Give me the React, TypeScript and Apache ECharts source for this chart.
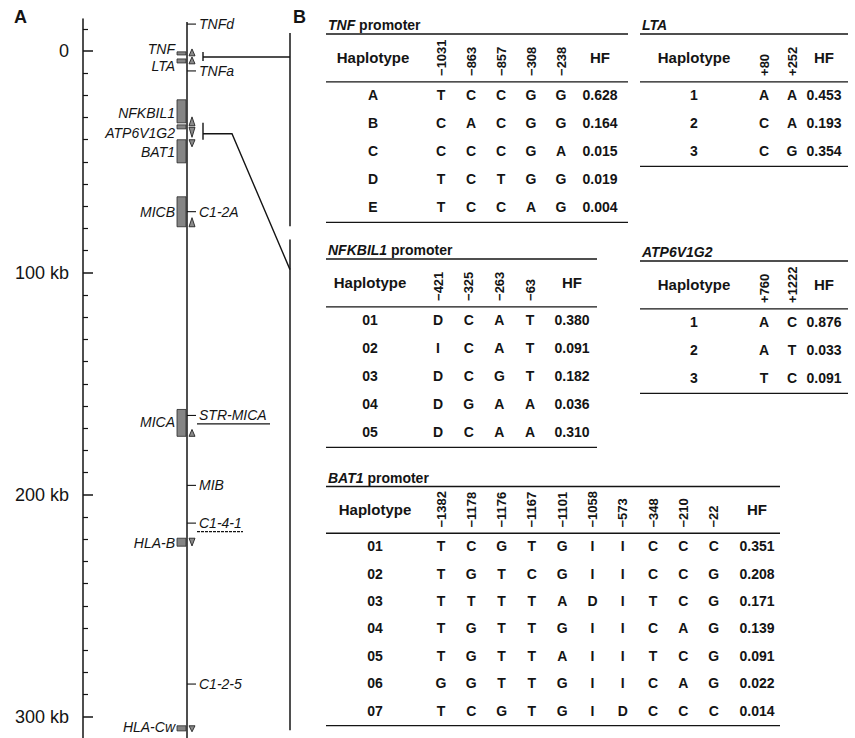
import React, { useEffect, useRef } from 'react';
import * as echarts from 'echarts';

// ---------------- Panel A data (positions in kb) ----------------
const AXIS_MAJOR_TICKS = [0, 100, 200, 300];
const AXIS_MINOR_TICKS = [-10, 10, 20, 30, 40, 50, 60, 70, 80, 90, 110, 120, 130, 140, 150, 160, 170, 180, 190,
  210, 220, 230, 240, 250, 260, 270, 280, 290];

const GENE_NAMES = ['TNF', 'LTA', 'NFKBIL1', 'ATP6V1G2', 'BAT1', 'MICB', 'MICA', 'HLA-B', 'HLA-Cw'];
const GENE_START = [0.4, 3.6, 22.0, 33.3, 40.0, 65.7, 161.5, 219.5, 304.0];
const GENE_END = [1.8, 5.4, 32.4, 35.1, 50.4, 79.2, 173.6, 223.1, 306.3];
const GENE_LABEL_KB = [-0.9, 6.9, 27.9, 36.9, 45.4, 72.4, 167.3, 221.7, 304.5];
const GENE_STRAND = ['+', '+', '+', '-', '-', '+', '+', '-', '-'];
const ARROW_START = [-0.9, 2.7, 29.7, 34.4, 40.0, 75.1, 170.5, 219.5, 304.0];
const ARROW_END = [2.2, 5.8, 33.7, 38.9, 43.2, 79.2, 173.6, 223.0, 306.7];

const MARKER_NAMES = ['TNFd', 'TNFa', 'C1-2A', 'STR-MICA', 'MIB', 'C1-4-1', 'C1-2-5'];
const MARKER_KB = [-12.1, 9.0, 72.4, 164.2, 195.7, 212.7, 285.2];
const MARKER_UNDERLINE = ['', '', '', 'solid', '', 'dashed', ''];

const BRACKET_TOP = [0.5, 32.4];
const BRACKET_BOTTOM = [4.5, 40.0];
const BRACKET_MID = [2.7, 37.3];
const BRACKET_TARGET = [2.7, 98.5];

const REGION_START = [-8.1, 84.9];
const REGION_END = [79.0, 306.0];

const CHROM_START_KB = -13.0;

// ---------------- Panel B data ----------------
const TNF_SNPS = ['−1031', '−863', '−857', '−308', '−238'];
const TNF_HAPLOTYPES = ['A', 'B', 'C', 'D', 'E'];
const TNF_ALLELES = ['TCCGG', 'CACGG', 'CCCGA', 'TCTGG', 'TCCAG'];
const TNF_HF = [0.628, 0.164, 0.015, 0.019, 0.004];

const LTA_SNPS = ['+80', '+252'];
const LTA_HAPLOTYPES = ['1', '2', '3'];
const LTA_ALLELES = ['AA', 'CA', 'CG'];
const LTA_HF = [0.453, 0.193, 0.354];

const NFKBIL1_SNPS = ['−421', '−325', '−263', '−63'];
const NFKBIL1_HAPLOTYPES = ['01', '02', '03', '04', '05'];
const NFKBIL1_ALLELES = ['DCAT', 'ICAT', 'DCGT', 'DGAA', 'DCAA'];
const NFKBIL1_HF = [0.38, 0.091, 0.182, 0.036, 0.31];

const ATP_SNPS = ['+760', '+1222'];
const ATP_HAPLOTYPES = ['1', '2', '3'];
const ATP_ALLELES = ['AC', 'AT', 'TC'];
const ATP_HF = [0.876, 0.033, 0.091];

const BAT1_SNPS = ['−1382', '−1178', '−1176', '−1167', '−1101', '−1058', '−573', '−348', '−210', '−22'];
const BAT1_HAPLOTYPES = ['01', '02', '03', '04', '05', '06', '07'];
const BAT1_ALLELES = ['TCGTGIICCC', 'TGTCGIICCG', 'TTTTADITCG', 'TGTTGIICAG', 'TGTTAIITCG', 'GGTTGIICAG', 'TCGTGIDCCC'];
const BAT1_HF = [0.351, 0.208, 0.171, 0.139, 0.091, 0.022, 0.014];

const TABLES = [
  { title: 'TNF', suffix: ' promoter', snps: TNF_SNPS, haps: TNF_HAPLOTYPES, alleles: TNF_ALLELES, hf: TNF_HF },
  { title: 'LTA', suffix: '', snps: LTA_SNPS, haps: LTA_HAPLOTYPES, alleles: LTA_ALLELES, hf: LTA_HF },
  { title: 'NFKBIL1', suffix: ' promoter', snps: NFKBIL1_SNPS, haps: NFKBIL1_HAPLOTYPES, alleles: NFKBIL1_ALLELES, hf: NFKBIL1_HF },
  { title: 'ATP6V1G2', suffix: '', snps: ATP_SNPS, haps: ATP_HAPLOTYPES, alleles: ATP_ALLELES, hf: ATP_HF },
  { title: 'BAT1', suffix: ' promoter', snps: BAT1_SNPS, haps: BAT1_HAPLOTYPES, alleles: BAT1_ALLELES, hf: BAT1_HF },
];

// ---------------- Layout (pixels) ----------------
const W = 855;
const H = 738;
const FONT = '"Liberation Sans", Arial, Helvetica, sans-serif';
const INK = '#141414';
const ZERO_Y = 51;
const PX_PER_KB = 667 / 300;
const AX_MIN = -14.4;
const AX_MAX = 309.5;
const AXIS_X = 83;
const CHROM_X = 187;
const REGION_X = 290;
const ROW_H = 28;

const TABLE_LAYOUT = [
  { left: 326, right: 628, row0: 95, snpX0: 441, dx: 30, hapX: 373, hfX: 600 },
  { left: 640, right: 848, row0: 95, snpX0: 764, dx: 28, hapX: 694, hfX: 824 },
  { left: 326, right: 597, row0: 320, snpX0: 438, dx: 30.7, hapX: 370, hfX: 572 },
  { left: 640, right: 848, row0: 322, snpX0: 764, dx: 28, hapX: 694, hfX: 824 },
  { left: 326, right: 780, row0: 548, snpX0: 441, dx: 30.3, hapX: 375, hfX: 757 },
];

function buildOption() {
  const gridTop = ZERO_Y + AX_MIN * PX_PER_KB;
  const gridH = (AX_MAX - AX_MIN) * PX_PER_KB;

  const grids: any[] = [
    { left: AXIS_X, top: gridTop, width: 20, height: gridH },
    { left: CHROM_X, top: gridTop, width: REGION_X - CHROM_X, height: gridH },
  ];
  const xAxes: any[] = [
    { gridIndex: 0, type: 'value', show: false, min: 0, max: 1 },
    { gridIndex: 1, type: 'value', show: false, min: 0, max: REGION_X - CHROM_X },
  ];
  const yAxes: any[] = [
    {
      gridIndex: 0, type: 'value', position: 'left', inverse: true, min: AX_MIN, max: AX_MAX,
      axisLine: { show: true, lineStyle: { color: INK, width: 1.5 } },
      axisTick: { show: true, inside: true, length: 10, customValues: AXIS_MAJOR_TICKS, lineStyle: { color: INK, width: 1.5 } },
      axisLabel: {
        show: true, customValues: AXIS_MAJOR_TICKS, margin: 14, color: INK, fontSize: 18, fontFamily: FONT,
        formatter: (v: number) => (v === 0 ? '0' : `${v} kb`),
      },
      splitLine: { show: false },
    },
    {
      gridIndex: 0, type: 'value', position: 'left', offset: 0, inverse: true, min: AX_MIN, max: AX_MAX,
      axisLine: { show: false },
      axisTick: { show: true, inside: true, length: 5, customValues: AXIS_MINOR_TICKS, lineStyle: { color: INK, width: 1.2 } },
      axisLabel: { show: false },
      splitLine: { show: false },
    },
    { gridIndex: 1, type: 'value', show: false, inverse: true, min: AX_MIN, max: AX_MAX },
  ];

  // ---- Panel A items ----
  const aItems: any[] = [];
  aItems.push({ kind: 'chrom', kb: CHROM_START_KB });
  REGION_START.forEach((s, i) => aItems.push({ kind: 'region', i, kb: s }));
  GENE_NAMES.forEach((g, i) => aItems.push({ kind: 'gene', i, kb: GENE_START[i] }));
  MARKER_NAMES.forEach((m, i) => aItems.push({ kind: 'marker', i, kb: MARKER_KB[i] }));
  BRACKET_TOP.forEach((b, i) => aItems.push({ kind: 'bracket', i, kb: b }));

  const series: any[] = [];
  series.push({
    type: 'custom',
    xAxisIndex: 1,
    yAxisIndex: 2,
    silent: true,
    data: aItems.map((it) => [0, it.kb]),
    renderItem: (params: any, api: any) => {
      const it = aItems[params.dataIndex];
      const P = (dx: number, kb: number) => {
        const p = api.coord([0, kb]);
        return [p[0] + dx, p[1]];
      };
      const lineStyle = { stroke: INK, lineWidth: 1.4 };
      if (it.kind === 'chrom') {
        const a = P(0, CHROM_START_KB);
        const b = P(0, AX_MAX);
        return { type: 'line', shape: { x1: a[0], y1: a[1], x2: b[0], y2: b[1] }, style: { ...lineStyle, lineWidth: 1.5 } };
      }
      if (it.kind === 'region') {
        const a = P(REGION_X - CHROM_X, REGION_START[it.i]);
        const b = P(REGION_X - CHROM_X, REGION_END[it.i]);
        return { type: 'line', shape: { x1: a[0], y1: a[1], x2: b[0], y2: b[1] }, style: { ...lineStyle, lineWidth: 1.5 } };
      }
      if (it.kind === 'gene') {
        const i = it.i;
        const a = P(0, GENE_START[i]);
        const b = P(0, GENE_END[i]);
        const ta = P(0, ARROW_START[i]);
        const tb = P(0, ARROW_END[i]);
        const lab = P(0, GENE_LABEL_KB[i]);
        const cx = a[0];
        const pts = GENE_STRAND[i] === '+'
          ? [[cx + 2, tb[1]], [cx + 8, tb[1]], [cx + 5, ta[1]]]
          : [[cx + 2, ta[1]], [cx + 8, ta[1]], [cx + 5, tb[1]]];
        return {
          type: 'group',
          children: [
            { type: 'rect', shape: { x: cx - 10, y: a[1], width: 9, height: Math.max(2.5, b[1] - a[1]) },
              style: { fill: '#858585', stroke: '#2a2a2a', lineWidth: 0.8 } },
            { type: 'polygon', shape: { points: pts }, style: { fill: '#8a8a8a', stroke: '#222', lineWidth: 0.9 } },
            { type: 'text', x: cx - 12, y: lab[1],
              style: { text: GENE_NAMES[i], fill: INK, fontSize: 14, fontStyle: 'italic', fontFamily: FONT,
                textAlign: 'right', textVerticalAlign: 'middle', align: 'right', verticalAlign: 'middle' } },
          ],
        };
      }
      if (it.kind === 'marker') {
        const i = it.i;
        const p = P(0, MARKER_KB[i]);
        const children: any[] = [
          { type: 'line', shape: { x1: p[0], y1: p[1], x2: p[0] + 9, y2: p[1] }, style: { stroke: INK, lineWidth: 1.1 } },
          { type: 'text', x: p[0] + 12, y: p[1],
            style: { text: MARKER_NAMES[i], fill: INK, fontSize: 14, fontStyle: 'italic', fontFamily: FONT,
              textAlign: 'left', textVerticalAlign: 'middle', align: 'left', verticalAlign: 'middle' } },
        ];
        if (MARKER_UNDERLINE[i]) {
          const w = MARKER_UNDERLINE[i] === 'solid' ? 73 : 46;
          children.push({
            type: 'line', shape: { x1: p[0] + 10, y1: p[1] + 8.5, x2: p[0] + 10 + w, y2: p[1] + 8.5 },
            style: { stroke: INK, lineWidth: 1.3, lineDash: MARKER_UNDERLINE[i] === 'dashed' ? [3, 1] : null },
          });
        }
        return { type: 'group', children };
      }
      if (it.kind === 'bracket') {
        const i = it.i;
        const t = P(16, BRACKET_TOP[i]);
        const b = P(16, BRACKET_BOTTOM[i]);
        const m = P(16, BRACKET_MID[i]);
        const k = P(45, BRACKET_MID[i]);
        const e = P(REGION_X - CHROM_X, BRACKET_TARGET[i]);
        return {
          type: 'group',
          children: [
            { type: 'line', shape: { x1: t[0], y1: t[1], x2: b[0], y2: b[1] }, style: lineStyle },
            { type: 'polyline', shape: { points: [m, k, e] }, style: { ...lineStyle, fill: null } },
          ],
        };
      }
      return null;
    },
  });

  // ---- Panel B tables ----
  TABLES.forEach((t, k) => {
    const L = TABLE_LAYOUT[k];
    const n = t.haps.length;
    const gIdx = grids.length;
    grids.push({ left: L.left, top: L.row0 - 3 * ROW_H, width: L.right - L.left, height: (n + 3) * ROW_H });
    const xMin = (L.left - L.snpX0) / L.dx;
    const xMax = (L.right - L.snpX0) / L.dx;
    xAxes.push({ gridIndex: gIdx, type: 'value', show: false, min: xMin, max: xMax });
    yAxes.push({ gridIndex: gIdx, type: 'value', show: false, inverse: true, min: -3, max: n });
    const hapCol = (L.hapX - L.snpX0) / L.dx;
    const hfCol = (L.hfX - L.snpX0) / L.dx;

    const items: any[] = [];
    items.push({ kind: 'title', col: xMin, row: -2.5 });
    items.push({ kind: 'hline', col: xMin, row: -2.18 });
    items.push({ kind: 'hline', col: xMin, row: -0.47 });
    items.push({ kind: 'hline', col: xMin, row: n - 1 + 0.55 });
    items.push({ kind: 'head', col: hapCol, row: -1.35, text: 'Haplotype' });
    items.push({ kind: 'head', col: hfCol, row: -1.35, text: 'HF' });
    t.snps.forEach((s, i) => items.push({ kind: 'vhead', col: i, row: -0.68, text: s }));
    t.haps.forEach((h, r) => {
      items.push({ kind: 'cell', col: hapCol, row: r, text: h });
      t.alleles[r].split('').forEach((a, i) => items.push({ kind: 'cell', col: i, row: r, text: a }));
      items.push({ kind: 'cell', col: hfCol, row: r, text: t.hf[r].toFixed(3) });
    });

    series.push({
      type: 'custom',
      xAxisIndex: xAxes.length - 1,
      yAxisIndex: yAxes.length - 1,
      silent: true,
      data: items.map((it) => [it.col, it.row]),
      renderItem: (params: any, api: any) => {
        const it = items[params.dataIndex];
        const p = api.coord([it.col, it.row]);
        if (it.kind === 'hline') {
          const q = api.coord([xMax, it.row]);
          return { type: 'line', shape: { x1: p[0], y1: p[1], x2: q[0], y2: q[1] }, style: { stroke: INK, lineWidth: 1.4 } };
        }
        if (it.kind === 'title') {
          return {
            type: 'text', x: p[0] + 2, y: p[1],
            style: {
              text: `{i|${t.title}}${t.suffix}`,
              rich: { i: { fontStyle: 'italic', fontWeight: 'bold', fontSize: 14, fontFamily: FONT, fill: INK, color: INK } },
              fill: INK, fontSize: 14, fontWeight: 'bold', fontFamily: FONT,
              textAlign: 'left', textVerticalAlign: 'middle', align: 'left', verticalAlign: 'middle',
            },
          };
        }
        if (it.kind === 'head') {
          return {
            type: 'text', x: p[0], y: p[1],
            style: { text: it.text, fill: INK, fontSize: 15, fontWeight: 'bold', fontFamily: FONT,
              textAlign: 'center', textVerticalAlign: 'middle', align: 'center', verticalAlign: 'middle' },
          };
        }
        if (it.kind === 'vhead') {
          return {
            type: 'text', x: p[0], y: p[1], rotation: Math.PI / 2,
            style: { text: it.text, fill: INK, fontSize: 13, fontWeight: 'bold', fontFamily: FONT,
              textAlign: 'left', textVerticalAlign: 'middle', align: 'left', verticalAlign: 'middle' },
          };
        }
        return {
          type: 'text', x: p[0], y: p[1],
          style: { text: it.text, fill: INK, fontSize: 14, fontWeight: 'bold', fontFamily: FONT,
            textAlign: 'center', textVerticalAlign: 'middle', align: 'center', verticalAlign: 'middle' },
        };
      },
    });
  });

  return {
    animation: false,
    backgroundColor: '#ffffff',
    grid: grids,
    xAxis: xAxes,
    yAxis: yAxes,
    series,
    graphic: [
      { type: 'text', left: 14, top: 8, style: { text: 'A', fill: INK, fontSize: 18, fontWeight: 'bold', fontFamily: FONT } },
      { type: 'text', left: 293, top: 8, style: { text: 'B', fill: INK, fontSize: 18, fontWeight: 'bold', fontFamily: FONT } },
    ],
  };
}

export default function App() {
  const ref = useRef<HTMLDivElement>(null);
  useEffect(() => {
    if (!ref.current) return;
    const chart = echarts.init(ref.current, null, { renderer: 'svg' });
    chart.setOption(buildOption() as any);
    return () => chart.dispose();
  }, []);
  return (
    <div
      ref={ref}
      style={{ position: 'absolute', left: 0, top: 0, width: W, height: H, background: '#fff' }}
    />
  );
}
